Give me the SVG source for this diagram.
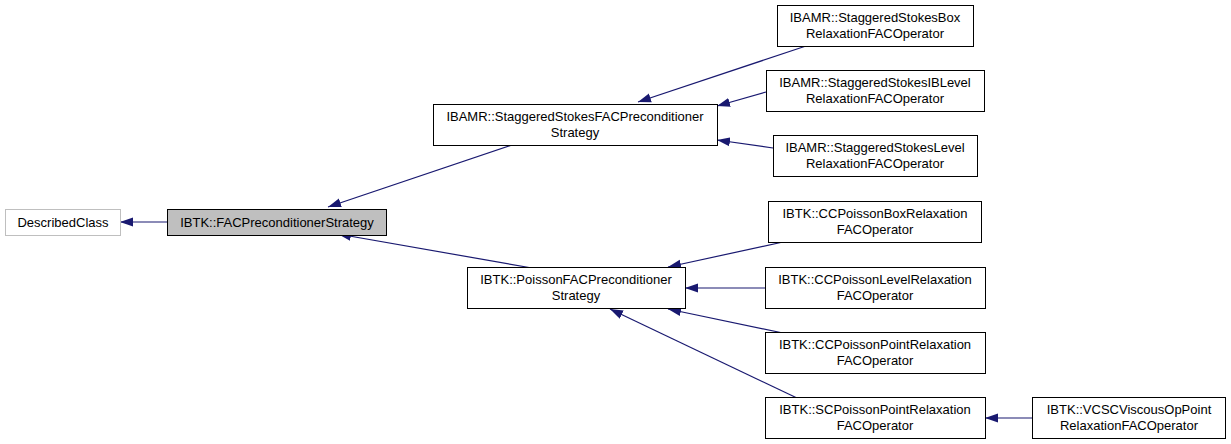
<svg xmlns="http://www.w3.org/2000/svg" width="1231" height="444" viewBox="0 0 1231 444">
<style>
.n rect{fill:#fff;stroke:#000;stroke-width:1}
.n.g rect{stroke:#bfbfbf}
.n.c rect{fill:#bfbfbf}
text{font-family:"Liberation Sans",Arial,sans-serif;font-size:13px;fill:#000;text-anchor:middle}
.e{stroke:#191970;stroke-width:1.2;fill:none;marker-end:url(#a)}
</style>
<defs>
<marker id="a" markerWidth="13" markerHeight="10" refX="13" refY="5" orient="auto" markerUnits="userSpaceOnUse">
<path d="M0,0.5 L13,5 L0,9.5 Z" fill="#191970"/>
</marker>
</defs>
<rect width="1231" height="444" fill="#fff"/>
<g id="edges">
<path class="e" d="M167,222 L120,222"/>
<path class="e" d="M512,145 L328,207"/>
<path class="e" d="M532,268 L338,234"/>
<path class="e" d="M806,46 L638,102"/>
<path class="e" d="M766,92 L717,106"/>
<path class="e" d="M773,148 L717,140"/>
<path class="e" d="M783,242 L668,267"/>
<path class="e" d="M765,288 L685,288"/>
<path class="e" d="M783,333 L668,309"/>
<path class="e" d="M797,398 L610,309"/>
<path class="e" d="M1032,418 L985,418"/>
</g>
<g id="DescribedClass" class="n g"><rect x="5.5" y="209.5" width="115" height="26"/><text x="63" y="227">DescribedClass</text></g>
<g id="FACPreconditionerStrategy" class="n c"><rect x="167.5" y="209.5" width="219" height="26"/><text x="277" y="227">IBTK::FACPreconditionerStrategy</text></g>
<g id="StaggeredStokesFACPreconditionerStrategy" class="n"><rect x="433.5" y="104.5" width="284" height="41"/><text x="575" y="121">IBAMR::StaggeredStokesFACPreconditioner</text><text x="575" y="137">Strategy</text></g>
<g id="StaggeredStokesBoxRelaxationFACOperator" class="n"><rect x="777.5" y="5.5" width="196" height="41"/><text x="875" y="22">IBAMR::StaggeredStokesBox</text><text x="875" y="38">RelaxationFACOperator</text></g>
<g id="StaggeredStokesIBLevelRelaxationFACOperator" class="n"><rect x="766.5" y="70.5" width="218" height="41"/><text x="875" y="87">IBAMR::StaggeredStokesIBLevel</text><text x="875" y="103">RelaxationFACOperator</text></g>
<g id="StaggeredStokesLevelRelaxationFACOperator" class="n"><rect x="773.5" y="135.5" width="204" height="41"/><text x="875" y="152">IBAMR::StaggeredStokesLevel</text><text x="875" y="168">RelaxationFACOperator</text></g>
<g id="PoissonFACPreconditionerStrategy" class="n"><rect x="467.5" y="267.5" width="218" height="41"/><text x="576" y="284">IBTK::PoissonFACPreconditioner</text><text x="576" y="300">Strategy</text></g>
<g id="CCPoissonBoxRelaxationFACOperator" class="n"><rect x="768.5" y="201.5" width="213" height="41"/><text x="875" y="218">IBTK::CCPoissonBoxRelaxation</text><text x="875" y="234">FACOperator</text></g>
<g id="CCPoissonLevelRelaxationFACOperator" class="n"><rect x="765.5" y="267.5" width="220" height="41"/><text x="875" y="284">IBTK::CCPoissonLevelRelaxation</text><text x="875" y="300">FACOperator</text></g>
<g id="CCPoissonPointRelaxationFACOperator" class="n"><rect x="765.5" y="332.5" width="220" height="41"/><text x="875" y="349">IBTK::CCPoissonPointRelaxation</text><text x="875" y="365">FACOperator</text></g>
<g id="SCPoissonPointRelaxationFACOperator" class="n"><rect x="765.5" y="397.5" width="220" height="41"/><text x="875" y="414">IBTK::SCPoissonPointRelaxation</text><text x="875" y="430">FACOperator</text></g>
<g id="VCSCViscousOpPointRelaxationFACOperator" class="n"><rect x="1032.5" y="397.5" width="193" height="41"/><text x="1129" y="414">IBTK::VCSCViscousOpPoint</text><text x="1129" y="430">RelaxationFACOperator</text></g>
</svg>
